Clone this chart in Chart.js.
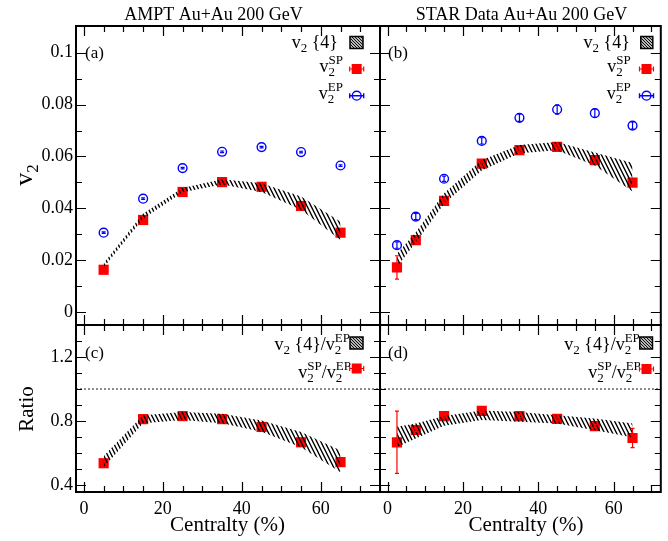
<!DOCTYPE html>
<html><head><meta charset="utf-8">
<script src="https://cdn.jsdelivr.net/npm/chart.js@4/dist/chart.umd.min.js"></script>
<style>
html,body{margin:0;padding:0;background:#fff;}
#wrap{position:relative;width:668px;height:541px;background:#fff;}
canvas{position:absolute;left:0;top:0;}
</style></head><body>
<div id="wrap">
<canvas id="ca" width="668" height="541"></canvas>
<canvas id="cb" width="668" height="541"></canvas>
<canvas id="cc" width="668" height="541"></canvas>
<canvas id="cd" width="668" height="541"></canvas>
</div>
<script>
// ---------------- data ----------------
const amptCent = [5, 15, 25, 35, 45, 55, 65];
const amptSP   = [0.0163, 0.0355, 0.0463, 0.0501, 0.0483, 0.0409, 0.0306];
const amptEP   = [0.0306, 0.0437, 0.0555, 0.0618, 0.0636, 0.0617, 0.0565];
const amptEPErr = [0.0003, 0.0003, 0.0003, 0.0003, 0.0003, 0.0003, 0.0003];
const amptV24Hi = [0.0188, 0.0380, 0.0478, 0.0512, 0.0497, 0.0446, 0.0348];
const amptV24Lo = [0.0172, 0.0360, 0.0462, 0.0492, 0.0463, 0.0394, 0.0278];

const starCent = [2.5, 7.5, 15, 25, 35, 45, 55, 65];
const starSP   = [0.0172, 0.0277, 0.0429, 0.0572, 0.0624, 0.0637, 0.0586, 0.0499];
const starSPErr = [0.0045, 0.0008, 0.0008, 0.0008, 0.0008, 0.0008, 0.0008, 0.0010];
const starEP   = [0.0258, 0.0368, 0.0514, 0.0660, 0.0749, 0.0781, 0.0767, 0.0719];
const starEPErr = [0.0012, 0.0012, 0.0010, 0.0012, 0.0014, 0.0018, 0.0016, 0.0014];
const starV24Hi = [0.0225, 0.0308, 0.0458, 0.0586, 0.0644, 0.0656, 0.0615, 0.0575];
const starV24Lo = [0.0175, 0.0268, 0.0418, 0.0546, 0.0612, 0.0624, 0.0565, 0.0465];

const amptRatioSP = [0.535, 0.811, 0.830, 0.811, 0.762, 0.666, 0.542];
const amptRatioV24Hi = [0.580, 0.835, 0.855, 0.845, 0.802, 0.731, 0.615];
const amptRatioV24Lo = [0.510, 0.785, 0.805, 0.785, 0.732, 0.635, 0.479];

const starRatioSP = [0.666, 0.743, 0.830, 0.863, 0.830, 0.813, 0.767, 0.693];
const starRatioSPErr = [0.195, 0.010, 0.010, 0.010, 0.010, 0.010, 0.010, 0.060];
const starRatioV24Hi = [0.763, 0.783, 0.830, 0.865, 0.855, 0.836, 0.815, 0.783];
const starRatioV24Lo = [0.637, 0.689, 0.770, 0.805, 0.795, 0.784, 0.741, 0.697];

const unityRatio = [1, 1];

// ticks
const xMajorTicks = [0, 20, 40, 60];
const xTickLabels = ['0', '20', '40', '60'];
const xMinorTicks = [5, 10, 15, 25, 30, 35, 45, 50, 55, 65, 70, 75];
const v2MajorTicks = [0, 0.02, 0.04, 0.06, 0.08, 0.1];
const v2TickLabels = ['0', '0.02', '0.04', '0.06', '0.08', '0.1'];
const v2MinorTicks = [0.01, 0.03, 0.05, 0.07, 0.09];
const ratioMajorTicks = [0.4, 0.8, 1.2];
const ratioTickLabels = ['0.4', '0.8', '1.2'];
const ratioMinorTicks = [0.5, 0.6, 0.7, 0.9, 1.0, 1.1, 1.3];

// ---------------- helpers ----------------
const FF = '"Liberation Serif", "Times New Roman", serif';
const RED = '#ff0000', BLUE = '#0000ff';
const pts = (xs, ys) => xs.map((x, i) => ({x, y: ys[i]}));

function makeHatch(ctx, w, h, lw) {
  const c = document.createElement('canvas');
  c.width = w; c.height = h;
  const g = c.getContext('2d');
  g.strokeStyle = '#000'; g.lineWidth = lw;
  g.beginPath();
  [-w, 0, w].forEach(o => { g.moveTo(o - w / 4, -h / 4); g.lineTo(o + w + w / 4, h + h / 4); });
  g.stroke();
  return ctx.createPattern(c, 'repeat');
}

function mw(ctx, p) { ctx.font = p.s + 'px ' + FF; return ctx.measureText(p.t).width; }
function rich(ctx, items, x, y, align) {
  const w = items.map(it => it.stack ? Math.max(...it.stack.map(p => mw(ctx, p))) : mw(ctx, it));
  const total = w.reduce((a, b) => a + b, 0);
  let cx = align === 'right' ? x - total : align === 'center' ? x - total / 2 : x;
  ctx.textAlign = 'left'; ctx.textBaseline = 'alphabetic'; ctx.fillStyle = '#000';
  items.forEach((it, i) => {
    (it.stack || [it]).forEach(p => { ctx.font = p.s + 'px ' + FF; ctx.fillText(p.t, cx, y + (p.dy || 0)); });
    cx += w[i];
  });
}
const M = 18, S = 13;
const vSub = [{t: 'v', s: M}, {t: '2', s: S, dy: 4}];
const vSupSub = sup => [{t: 'v', s: M}, {stack: [{t: '2', s: S, dy: 4}, {t: sup, s: S, dy: -8}]}];

function plainText(ctx, t, x, y, size, align) {
  ctx.font = size + 'px ' + FF; ctx.fillStyle = '#000';
  ctx.textAlign = align || 'left'; ctx.textBaseline = 'alphabetic';
  ctx.fillText(t, x, y);
}

function legendHatchBox(ctx, pat, x, y, w, h) {
  ctx.save(); ctx.fillStyle = pat; ctx.fillRect(x, y, w, h);
  ctx.strokeStyle = '#000'; ctx.lineWidth = 1.5; ctx.strokeRect(x, y, w, h); ctx.restore();
}
function legendSquare(ctx, x, y) {
  ctx.save(); ctx.strokeStyle = RED; ctx.lineWidth = 1.2; ctx.beginPath();
  ctx.moveTo(x - 7, y); ctx.lineTo(x + 7, y); ctx.moveTo(x - 7, y - 2.5); ctx.lineTo(x - 7, y + 2.5);
  ctx.moveTo(x + 7, y - 2.5); ctx.lineTo(x + 7, y + 2.5); ctx.stroke();
  ctx.fillStyle = RED; ctx.fillRect(x - 5, y - 5, 10, 10); ctx.restore();
}
function legendCircle(ctx, x, y) {
  ctx.save(); ctx.strokeStyle = BLUE; ctx.lineWidth = 1.4; ctx.beginPath();
  ctx.moveTo(x - 7, y); ctx.lineTo(x + 7, y); ctx.moveTo(x - 7, y - 2.5); ctx.lineTo(x - 7, y + 2.5);
  ctx.moveTo(x + 7, y - 2.5); ctx.lineTo(x + 7, y + 2.5); ctx.stroke();
  ctx.beginPath(); ctx.arc(x, y, 4.4, 0, Math.PI * 2); ctx.stroke(); ctx.restore();
}

function drawFrame(chart, t) {
  const {ctx, chartArea: a, scales: {x, y}} = chart;
  ctx.save(); ctx.strokeStyle = '#000'; ctx.lineWidth = 1.2; ctx.beginPath();
  const xt = (v, len) => { if (v < x.min || v > x.max) return; const p = Math.round(x.getPixelForValue(v)) + 0.5;
    ctx.moveTo(p, a.bottom); ctx.lineTo(p, a.bottom - len); ctx.moveTo(p, a.top); ctx.lineTo(p, a.top + len); };
  const yt = (v, len) => { if (v < y.min || v > y.max) return; const p = Math.round(y.getPixelForValue(v)) + 0.5;
    ctx.moveTo(a.left, p); ctx.lineTo(a.left + len, p); ctx.moveTo(a.right, p); ctx.lineTo(a.right - len, p); };
  t.xMajor.forEach(v => xt(v, 10)); t.xMinor.forEach(v => xt(v, 6));
  t.yMajor.forEach(v => yt(v, 10)); t.yMinor.forEach(v => yt(v, 6));
  ctx.stroke();
  ctx.lineWidth = 2; ctx.strokeRect(a.left, a.top, a.right - a.left, a.bottom - a.top);
  ctx.restore();
}

function drawErrors(chart, sets) {
  const {ctx, scales: {x, y}} = chart;
  ctx.save();
  sets.forEach(s => {
    ctx.strokeStyle = s.color; ctx.lineWidth = 1.2; ctx.beginPath();
    s.xs.forEach((xv, i) => {
      const e = s.err[i]; if (!e) return;
      const px = x.getPixelForValue(xv);
      const p1 = y.getPixelForValue(s.ys[i] - e), p2 = y.getPixelForValue(s.ys[i] + e);
      ctx.moveTo(px, p1); ctx.lineTo(px, p2);
      ctx.moveTo(px - 2, p1); ctx.lineTo(px + 2, p1);
      ctx.moveTo(px - 2, p2); ctx.lineTo(px + 2, p2);
    });
    ctx.stroke();
  });
  ctx.restore();
}

function xScale(min, max, show) {
  return {
    type: 'linear', min, max, display: show,
    grid: {display: false, drawTicks: false}, border: {display: false},
    ticks: {font: {family: FF, size: 18}, color: '#000', padding: 6, maxRotation: 0, autoSkip: false,
      callback: (v, i) => xTickLabels[i]},
    afterBuildTicks: s => { s.ticks = xMajorTicks.map(v => ({value: v})); },
    afterFit: s => { s.height = show ? 49 : 0; }
  };
}
function yScale(min, max, show, major, labels) {
  return {
    type: 'linear', min, max, display: show,
    grid: {display: false, drawTicks: false}, border: {display: false},
    ticks: {font: {family: FF, size: 18}, color: '#000', padding: 3, autoSkip: false,
      callback: (v, i) => labels[i]},
    afterBuildTicks: s => { s.ticks = major.map(v => ({value: v})); },
    afterFit: s => { s.width = show ? 76 : 0; }
  };
}

function bandSets(xs, hi, lo, pat) {
  return [
    {data: pts(xs, hi), borderWidth: 0, borderColor: 'rgba(0,0,0,0)', pointRadius: 0, fill: '+1', backgroundColor: pat, tension: 0},
    {data: pts(xs, lo), borderWidth: 0, borderColor: 'rgba(0,0,0,0)', pointRadius: 0, fill: false, tension: 0}
  ];
}
const spSet = (xs, ys) => ({data: pts(xs, ys), showLine: false, pointStyle: 'rect', pointRadius: 7.2, backgroundColor: RED, borderWidth: 0});
const epSet = (xs, ys) => ({data: pts(xs, ys), showLine: false, pointStyle: 'circle', pointRadius: 4.4, backgroundColor: 'rgba(255,255,255,0)', borderColor: BLUE, borderWidth: 1.4});
const unitySet = (min, max) => ({data: pts([min, max], unityRatio), borderColor: '#8c8c8c', borderWidth: 2, borderDash: [2, 2], pointRadius: 0, fill: false});

function baseOpts(padding, scales) {
  return {
    responsive: false, animation: false, devicePixelRatio: 1, events: [],
    layout: {padding},
    plugins: {legend: {display: false}, tooltip: {enabled: false}, title: {display: false}},
    scales
  };
}

const XA = [-2, 75], XB = [-2, 72.5], YV = [-0.005, 0.1103], YR = [0.355, 1.4];

function pats(ctx) { return {band: makeHatch(ctx, 4, 8, 1.4), box: makeHatch(ctx, 3, 3, 1.1)}; }

// ---------------- (a) ----------------
(function () {
  const cv = document.getElementById('ca'), ctx = cv.getContext('2d'), P = pats(ctx);
  new Chart(ctx, {
    type: 'line',
    data: {datasets: [...bandSets(amptCent, amptV24Hi, amptV24Lo, P.band), epSet(amptCent, amptEP), spSet(amptCent, amptSP)]},
    options: baseOpts({left: 0, top: 26, right: 288, bottom: 216},
      {x: xScale(XA[0], XA[1], false), y: yScale(YV[0], YV[1], true, v2MajorTicks, v2TickLabels)}),
    plugins: [{
      id: 'decA',
      afterDatasetsDraw(c) { drawErrors(c, [{xs: amptCent, ys: amptEP, err: amptEPErr, color: BLUE}]); },
      afterDraw(c) {
        const g = c.ctx, a = c.chartArea;
        drawFrame(c, {xMajor: xMajorTicks, xMinor: xMinorTicks, yMajor: v2MajorTicks, yMinor: v2MinorTicks});
        plainText(g, 'AMPT Au+Au 200 GeV', 213.5, 19.5, 18, 'center');
        plainText(g, '(a)', 85, 57.5, 17);
        g.save(); g.translate(31.5, 175); g.rotate(-Math.PI / 2);
        rich(g, [{t: 'v', s: 26}, {t: '2', s: 17, dy: 6}], 0, 0, 'center'); g.restore();
        const sx = a.right - 23.3;
        rich(g, [...vSub, {t: ' {4}', s: M}], a.right - 42, 48, 'right');
        legendHatchBox(g, P.box, a.right - 30, 36.5, 13, 12);
        rich(g, vSupSub('SP'), a.right - 37, 72, 'right');
        legendSquare(g, sx, 69);
        rich(g, vSupSub('EP'), a.right - 37, 98.5, 'right');
        legendCircle(g, sx, 95.7);
      }
    }]
  });
})();

// ---------------- (b) ----------------
(function () {
  const cv = document.getElementById('cb'), ctx = cv.getContext('2d'), P = pats(ctx);
  new Chart(ctx, {
    type: 'line',
    data: {datasets: [...bandSets(starCent, starV24Hi, starV24Lo, P.band), epSet(starCent, starEP), spSet(starCent, starSP)]},
    options: baseOpts({left: 380, top: 26, right: 1, bottom: 216},
      {x: xScale(XB[0], XB[1], false), y: yScale(YV[0], YV[1], false, v2MajorTicks, v2TickLabels)}),
    plugins: [{
      id: 'decB',
      afterDatasetsDraw(c) {
        drawErrors(c, [{xs: starCent, ys: starEP, err: starEPErr, color: BLUE}, {xs: starCent, ys: starSP, err: starSPErr, color: RED}]);
      },
      afterDraw(c) {
        const g = c.ctx, a = c.chartArea;
        drawFrame(c, {xMajor: xMajorTicks, xMinor: xMinorTicks, yMajor: v2MajorTicks, yMinor: v2MinorTicks});
        plainText(g, 'STAR Data Au+Au 200 GeV', 521.5, 19.5, 18, 'center');
        plainText(g, '(b)', 388, 57.5, 17);
        const sx = a.right - 14.3;
        rich(g, [...vSub, {t: ' {4}', s: M}], a.right - 31, 48, 'right');
        legendHatchBox(g, P.box, a.right - 20, 36.5, 12, 12);
        rich(g, vSupSub('SP'), a.right - 30, 72, 'right');
        legendSquare(g, sx, 69);
        rich(g, vSupSub('EP'), a.right - 30, 98.5, 'right');
        legendCircle(g, sx, 95.7);
      }
    }]
  });
})();

// ---------------- (c) ----------------
(function () {
  const cv = document.getElementById('cc'), ctx = cv.getContext('2d'), P = pats(ctx);
  new Chart(ctx, {
    type: 'line',
    data: {datasets: [unitySet(XA[0], XA[1]), ...bandSets(amptCent, amptRatioV24Hi, amptRatioV24Lo, P.band), spSet(amptCent, amptRatioSP)]},
    options: baseOpts({left: 0, top: 325, right: 288, bottom: 0},
      {x: xScale(XA[0], XA[1], true), y: yScale(YR[0], YR[1], true, ratioMajorTicks, ratioTickLabels)}),
    plugins: [{
      id: 'decC',
      afterDraw(c) {
        const g = c.ctx, a = c.chartArea;
        drawFrame(c, {xMajor: xMajorTicks, xMinor: xMinorTicks, yMajor: ratioMajorTicks, yMinor: ratioMinorTicks});
        plainText(g, '(c)', 85, 357.5, 17);
        plainText(g, 'Centralty (%)', 227.5, 530.5, 21, 'center');
        g.save(); g.translate(33, 409); g.rotate(-Math.PI / 2);
        plainText(g, 'Ratio', 0, 0, 21, 'center'); g.restore();
        rich(g, [...vSub, {t: ' {4}/', s: M}, ...vSupSub('EP')], a.right - 30, 350, 'right');
        legendHatchBox(g, P.box, a.right - 30, 337, 13, 12);
        rich(g, [...vSupSub('SP'), {t: '/', s: M}, ...vSupSub('EP')], a.right - 29, 378, 'right');
        legendSquare(g, a.right - 23.3, 368.5);
      }
    }]
  });
})();

// ---------------- (d) ----------------
(function () {
  const cv = document.getElementById('cd'), ctx = cv.getContext('2d'), P = pats(ctx);
  new Chart(ctx, {
    type: 'line',
    data: {datasets: [unitySet(XB[0], XB[1]), ...bandSets(starCent, starRatioV24Hi, starRatioV24Lo, P.band), spSet(starCent, starRatioSP)]},
    options: baseOpts({left: 380, top: 325, right: 1, bottom: 0},
      {x: xScale(XB[0], XB[1], true), y: yScale(YR[0], YR[1], false, ratioMajorTicks, ratioTickLabels)}),
    plugins: [{
      id: 'decD',
      afterDatasetsDraw(c) { drawErrors(c, [{xs: starCent, ys: starRatioSP, err: starRatioSPErr, color: RED}]); },
      afterDraw(c) {
        const g = c.ctx, a = c.chartArea;
        drawFrame(c, {xMajor: xMajorTicks, xMinor: xMinorTicks, yMajor: ratioMajorTicks, yMinor: ratioMinorTicks});
        plainText(g, '(d)', 388, 357.5, 17);
        plainText(g, 'Centralty (%)', 526, 530.5, 21, 'center');
        rich(g, [...vSub, {t: ' {4}/', s: M}, ...vSupSub('EP')], a.right - 21, 350, 'right');
        legendHatchBox(g, P.box, a.right - 21, 337, 12.7, 12);
        rich(g, [...vSupSub('SP'), {t: '/', s: M}, ...vSupSub('EP')], a.right - 20, 378, 'right');
        legendSquare(g, a.right - 14.3, 369);
      }
    }]
  });
})();
</script>
</body></html>
